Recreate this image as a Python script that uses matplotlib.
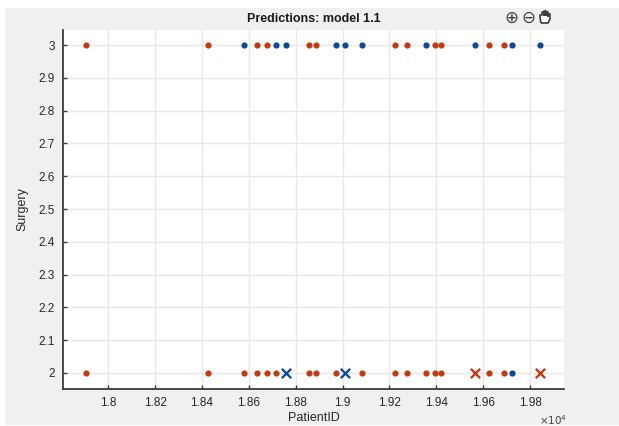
import numpy as np
import matplotlib
matplotlib.use("Agg")
import matplotlib.pyplot as plt
from matplotlib.patches import Rectangle, PathPatch
from matplotlib.path import Path
from matplotlib.ticker import FixedLocator, FuncFormatter

plt.rcParams['font.family'] = ['Liberation Sans', 'DejaVu Sans']

# patient ids (same ids appear in both rows)
patient_ids = [17905, 18425, 18580, 18637, 18676, 18715, 18757, 18857, 18886, 18971, 19012,
               19081, 19225, 19273, 19355, 19393, 19421, 19564, 19627, 19689, 19722, 19844]
# predicted class for Surgery = 3 row  (A = red, B = blue)
pred_row3 = ['A', 'A', 'B', 'A', 'A', 'B', 'B', 'A', 'A', 'B', 'B',
             'B', 'A', 'A', 'B', 'A', 'A', 'B', 'A', 'A', 'B', 'B']
# predicted class for Surgery = 2 row
pred_row2 = ['A', 'A', 'A', 'A', 'A', 'A', 'B', 'A', 'A', 'A', 'B',
             'A', 'A', 'A', 'A', 'A', 'A', 'A', 'A', 'A', 'B', 'A']
# 1 = correct (dot), 0 = incorrect (cross)
correct_row2 = [1, 1, 1, 1, 1, 1, 0, 1, 1, 1, 0,
                1, 1, 1, 1, 1, 1, 0, 1, 1, 1, 0]

colors = {'A': '#C43A0E', 'B': '#0B4A98'}

fig = plt.figure(figsize=(6.19, 4.26), dpi=100)
fig.patch.set_facecolor('white')
fig.patches.append(Rectangle((5 / 619, 1 / 426), 614 / 619, 417 / 426,
                             transform=fig.transFigure, facecolor='#f0f0f0',
                             edgecolor='none', zorder=-10))

ax = fig.add_axes([63 / 619, 37 / 426, 501 / 619, 359 / 426])
ax.set_facecolor('white')

ids = np.array(patient_ids)
for level, preds, corr in [(3, pred_row3, [1] * len(pred_row3)),
                           (2, pred_row2, correct_row2)]:
    for cls in ['A', 'B']:
        for ok in [1, 0]:
            mask = np.array([(p == cls and c == ok) for p, c in zip(preds, corr)])
            if not mask.any():
                continue
            y = np.full(mask.sum(), level)
            if ok:
                ax.scatter(ids[mask], y, s=20, color=colors[cls], marker='o',
                           linewidths=0, zorder=3)
            else:
                ax.scatter(ids[mask], y, s=45, color=colors[cls], marker='x',
                           linewidths=1.7, zorder=3)

ax.set_xlim(17807, 19945)
ax.set_ylim(1.951, 3.046)

ax.xaxis.set_major_locator(FixedLocator(np.arange(18000, 19801, 200)))
ax.xaxis.set_major_formatter(FuncFormatter(lambda v, p: '%g' % round(v / 1e4, 2)))
ax.yaxis.set_major_locator(FixedLocator(np.round(np.arange(2, 3.01, 0.1), 1)))
ax.yaxis.set_major_formatter(FuncFormatter(lambda v, p: '%g' % round(v, 1)))

ax.grid(True, color='#e8e8e8', linewidth=1.0)
ax.set_axisbelow(True)
for s in ['top', 'right']:
    ax.spines[s].set_visible(False)
for s in ['left', 'bottom']:
    ax.spines[s].set_color('#3a3a3a')
    ax.spines[s].set_linewidth(1.3)
ax.tick_params(direction='in', length=3, width=1, colors='#3a3a3a',
               labelsize=8.5, labelcolor='#262626', pad=6)

ax.set_xlabel('PatientID', fontsize=9, color='#262626', labelpad=2)
ax.set_ylabel('Surgery', fontsize=9, color='#262626', labelpad=7)
ax.set_title('Predictions: model 1.1', fontsize=9, fontweight='bold',
             color='#1a1a1a', pad=6)

fig.text(553 / 619, 1 - 420 / 426, r'$\times10^{4}$', fontsize=7.5,
         color='#444444', ha='center', va='center')

# axes toolbar icons: zoom in, zoom out, pan (hand drawn as a shape)
for xp, glyph in [(511, '\u2295'), (528, '\u2296')]:
    fig.text(xp / 619, 1 - 18 / 426, glyph, fontsize=12, color='#3c3c3c',
             ha='center', va='center', family=['DejaVu Sans'])

W, H = 619.0, 426.0
hx, hy = 545.0, 18.0
hand_px = [(-4, 5), (-5, 0), (-5, -3), (-3, -3), (-3, -6), (-1, -6), (-1, -3),
           (-1, -7), (1, -7), (1, -3), (1, -6), (3, -6), (3, -2), (3, -4),
           (5, -4), (5, 1), (3, 5), (-4, 5)]
verts = [((hx + dx) / W, 1 - (hy + dy) / H) for dx, dy in hand_px]
hand = PathPatch(Path(verts), transform=fig.transFigure, facecolor='white',
                 edgecolor='#3c3c3c', linewidth=1.2, joinstyle='round')
fig.patches.append(hand)

fig.savefig('out.png', dpi=100, facecolor=fig.get_facecolor())
